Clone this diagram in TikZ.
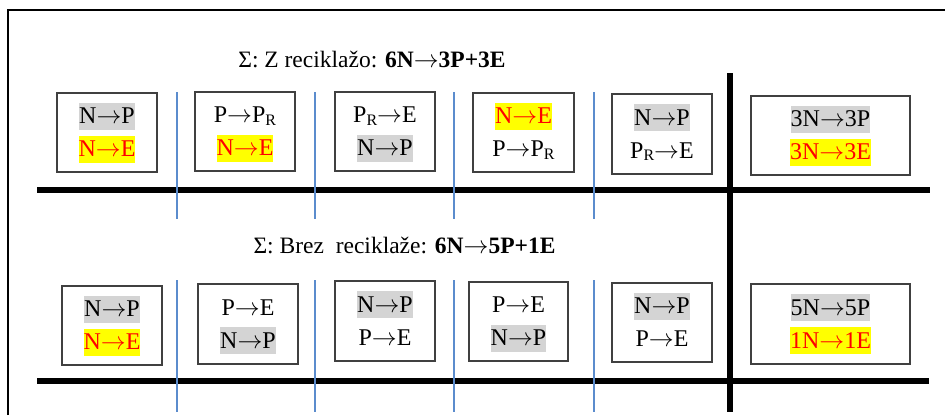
\documentclass[tikz,border=0pt]{standalone}
\usepackage{fontspec}
\setmainfont{Liberation Serif}
\usepackage{tikz}
\usetikzlibrary{positioning}

\definecolor{hlgrey}{RGB}{212,212,212}
\definecolor{hlyellow}{RGB}{255,255,0}
\definecolor{rowline}{RGB}{91,140,205}
\definecolor{boxline}{RGB}{64,64,64}

\newcommand{\PR}{P\raisebox{-2.5pt}{\fontsize{16}{16}\selectfont R}}
\newcommand{\ar}{\ensuremath{\rightarrow}}

\tikzset{
  stepbox/.style={draw=boxline, line width=1.3pt, rectangle, inner sep=0pt, minimum height=79pt},
  txt/.style={inner sep=0pt, text height=21pt, text depth=6pt, font=\fontsize{24}{28}\selectfont},
  grey/.style={txt, fill=hlgrey},
  yel/.style={txt, fill=hlyellow, text=red},
  title/.style={anchor=base, inner sep=0pt, font=\fontsize{23.5}{28}\selectfont},
  thick line/.style={line width=5.5pt},
  sep line/.style={draw=rowline, line width=1.2pt}
}

\begin{document}
\begin{tikzpicture}[x=1pt, y=-1pt]
            \useasboundingbox (0,0) rectangle (945,415);

            % frame
            \draw [line width=1.4pt] (8,415) -- (8,10) -- (945,10);

            % grid
            \draw [thick line] (37,190) -- (930,190);
            \draw [thick line] (37,381) -- (929,381);
            \draw [thick line] (730,73) -- (730,412);
            \foreach \x in {177,315,454,594} {
                \draw [sep line] (\x,92) -- (\x,219);
                \draw [sep line] (\x,280) -- (\x,412);
            }

            % with recycling
            \node [title] (sum1) at (372,67) {Σ: Z reciklažo: \textbf{6N\ar3P+3E}};

            \node [stepbox, minimum width=100pt] (t1) at (107,132.5) {};
            \node [stepbox, minimum width=100pt] (t2) at (245,131.5) {};
            \node [stepbox, minimum width=100pt] (t3) at (385,131.5) {};
            \node [stepbox, minimum width=101pt] (t4) at (523.5,132.5) {};
            \node [stepbox, minimum width=100pt, minimum height=80pt] (t5) at (662,134) {};
            \node [stepbox, minimum width=159pt] (t6) at (830.5,135.5) {};

            \node [grey, yshift=16.5pt] (t1a) at (t1) {N\ar P};
            \node [yel, yshift=-16.5pt] (t1b) at (t1) {N\ar E};
            \node [txt, yshift=16.5pt] (t2a) at (t2) {P\ar\PR};
            \node [yel, yshift=-16.5pt] (t2b) at (t2) {N\ar E};
            \node [txt, yshift=16.5pt] (t3a) at (t3) {\PR\ar E};
            \node [grey, yshift=-16.5pt] (t3b) at (t3) {N\ar P};
            \node [yel, yshift=16.5pt] (t4a) at (t4) {N\ar E};
            \node [txt, yshift=-16.5pt] (t4b) at (t4) {P\ar\PR};
            \node [grey, yshift=16.5pt] (t5a) at (t5) {N\ar P};
            \node [txt, yshift=-16.5pt] (t5b) at (t5) {\PR\ar E};
            \node [grey, yshift=16.5pt] (t6a) at (t6) {3N\ar3P};
            \node [yel, yshift=-16.5pt] (t6b) at (t6) {3N\ar3E};

            % without recycling
            \node [title] (sum2) at (404.5,253) {Σ: Brez\ \ reciklaže: \textbf{6N\ar5P+1E}};

            \node [stepbox, minimum width=100pt] (b1) at (112,325.5) {};
            \node [stepbox, minimum width=100pt, minimum height=80pt] (b2) at (248,324) {};
            \node [stepbox, minimum width=100pt, minimum height=80pt] (b3) at (385,321) {};
            \node [stepbox, minimum width=99pt] (b4) at (518.5,321.5) {};
            \node [stepbox, minimum width=100pt] (b5) at (662,322.5) {};
            \node [stepbox, minimum width=159pt, minimum height=80pt] (b6) at (830.5,324) {};

            \node [grey, yshift=16.5pt] (b1a) at (b1) {N\ar P};
            \node [yel, yshift=-16.5pt] (b1b) at (b1) {N\ar E};
            \node [txt, yshift=16.5pt] (b2a) at (b2) {P\ar E};
            \node [grey, yshift=-16.5pt] (b2b) at (b2) {N\ar P};
            \node [grey, yshift=16.5pt] (b3a) at (b3) {N\ar P};
            \node [txt, yshift=-16.5pt] (b3b) at (b3) {P\ar E};
            \node [txt, yshift=16.5pt] (b4a) at (b4) {P\ar E};
            \node [grey, yshift=-16.5pt] (b4b) at (b4) {N\ar P};
            \node [grey, yshift=16.5pt] (b5a) at (b5) {N\ar P};
            \node [txt, yshift=-16.5pt] (b5b) at (b5) {P\ar E};
            \node [grey, yshift=16.5pt] (b6a) at (b6) {5N\ar5P};
            \node [yel, yshift=-16.5pt] (b6b) at (b6) {1N\ar1E};
\end{tikzpicture}
\end{document}
